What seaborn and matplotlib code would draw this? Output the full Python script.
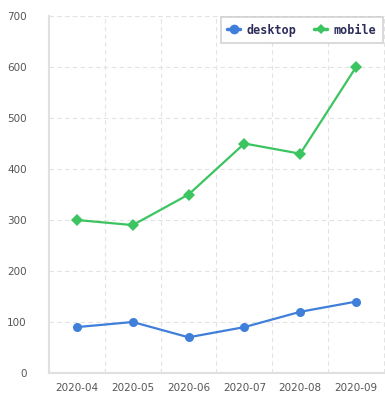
import numpy as np
import pandas as pd
import seaborn as sns
import matplotlib.pyplot as plt
from matplotlib.lines import Line2D

months = ['2020-04', '2020-05', '2020-06', '2020-07', '2020-08', '2020-09']
desktop = [90, 100, 70, 90, 120, 140]
mobile = [300, 290, 350, 450, 430, 600]

df = pd.DataFrame({'month': months * 2,
                   'value': desktop + mobile,
                   'device': ['desktop'] * 6 + ['mobile'] * 6})
df['pos'] = list(range(6)) * 2

sns.set_style('white')
plt.rcParams['font.family'] = ['DejaVu Sans']

fig = plt.figure(figsize=(3.85, 4.09), dpi=100)
ax = fig.add_axes([49 / 385, 1 - 373 / 409, 335 / 385, 357 / 409])

blue = '#3f7fd9'
green = '#3cc460'
sns.lineplot(data=df, x='pos', y='value', hue='device', style='device',
             markers={'desktop': 'o', 'mobile': 'D'}, dashes=False,
             palette={'desktop': blue, 'mobile': green},
             markersize=6.5, markeredgewidth=0, linewidth=1.6, ax=ax, legend=False)

ax.set_xlim(-0.5, 5.5)
ax.set_ylim(0, 700)
ax.set_xticks(range(6))
ax.set_xticklabels(months)
ax.set_xticks(np.arange(0.5, 5, 1), minor=True)
ax.set_yticks(range(0, 701, 100))
ax.tick_params(axis='both', which='both', length=0, labelsize=7.5, colors='#555555')
ax.tick_params(axis='x', pad=7)
ax.tick_params(axis='y', pad=16)
grid_kw = dict(color='#e3e3e3', linestyle=(0, (4, 3)), linewidth=0.8)
ax.grid(True, axis='y', which='major', **grid_kw)
ax.grid(True, axis='x', which='minor', **grid_kw)
ax.axvline(5.5, clip_on=False, zorder=0, **grid_kw)
ax.axhline(700, clip_on=False, zorder=0, **grid_kw)
ax.set_xlabel('')
ax.set_ylabel('')
for s in ['top', 'right']:
    ax.spines[s].set_visible(False)
for s in ['left', 'bottom']:
    ax.spines[s].set_color('#e0e0e0')
    ax.spines[s].set_linewidth(1.5)

handles = [Line2D([], [], color=blue, marker='o', markersize=7, linewidth=2.5, markeredgewidth=0),
           Line2D([], [], color=green, marker='D', markersize=5.5, linewidth=2.5, markeredgewidth=0)]
leg = ax.legend(handles, ['desktop', 'mobile'], loc='upper right', ncol=2,
                bbox_to_anchor=(0.997, 0.997), frameon=True, fancybox=False,
                handlelength=1.1, handletextpad=0.55, columnspacing=1.5,
                borderpad=0.55, borderaxespad=0,
                prop={'family': 'DejaVu Sans Mono', 'weight': 'bold', 'size': 8.5})
leg.get_frame().set_edgecolor('#c8c8c8')
leg.get_frame().set_linewidth(1.2)
for t in leg.get_texts():
    t.set_color('#2c2c5a')

fig.savefig('out.png', dpi=100)
